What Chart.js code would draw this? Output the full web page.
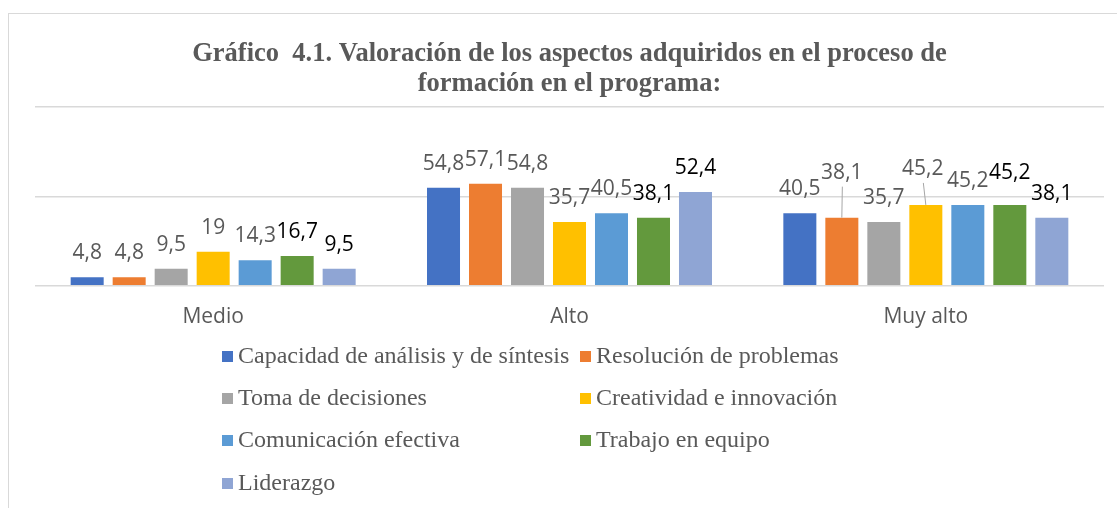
<!DOCTYPE html>
<html>
<head>
<meta charset="utf-8">
<script src="https://cdn.jsdelivr.net/npm/chart.js@4/dist/chart.umd.min.js"></script>
<style>
  html, body { margin: 0; padding: 0; background: #ffffff; overflow: hidden; }
  #frame { position: absolute; left: 8px; top: 13px; width: 1300px; height: 700px; border: 1px solid #d9d9d9; box-sizing: border-box; }
  #wrap { position: absolute; left: 0; top: 0; width: 1117px; height: 508px; }
</style>
</head>
<body>
<div id="frame"></div>
<div id="wrap"><canvas id="c" width="1117" height="508"></canvas></div>
<script>
const categories = ['Medio', 'Alto', 'Muy alto'];
const seriesNames = [
  'Capacidad de análisis y de síntesis',
  'Resolución de problemas',
  'Toma de decisiones',
  'Creatividad e innovación',
  'Comunicación efectiva',
  'Trabajo en equipo',
  'Liderazgo'
];
const capacidad    = [4.8, 54.8, 40.5];
const resolucion   = [4.8, 57.1, 38.1];
const toma         = [9.5, 54.8, 35.7];
const creatividad  = [19, 35.7, 45.2];
const comunicacion = [14.3, 40.5, 45.2];
const trabajo      = [16.7, 38.1, 45.2];
const liderazgo    = [9.5, 52.4, 38.1];
const yTicks = [0, 50, 100];

const seriesValues = [capacidad, resolucion, toma, creatividad, comunicacion, trabajo, liderazgo];
const colors = ['#4472C4', '#ED7D31', '#A5A5A5', '#FFC000', '#5B9BD5', '#63993D', '#8FA5D4'];
const labelColors = ['#595959', '#595959', '#595959', '#595959', '#595959', '#000000', '#000000'];

// manual label nudges (as in the original, some labels moved with leader lines)
const nudges = {
  '1-2': { dx: 0, dy: -21, leader: true },
  '3-2': { dx: -3, dy: -12, leader: true },
  '5-2': { dx: 0, dy: -8, leader: false }
};

const fmt = v => String(v).replace('.', ',');

const labelPlugin = {
  id: 'barLabels',
  afterDatasetsDraw(chart) {
    const ctx = chart.ctx;
    ctx.save();
    ctx.font = '21px "Open Sans"';
    ctx.textAlign = 'center';
    ctx.textBaseline = 'middle';
    chart.data.datasets.forEach((ds, di) => {
      const meta = chart.getDatasetMeta(di);
      meta.data.forEach((bar, i) => {
        const n = nudges[di + '-' + i] || { dx: 0, dy: 0 };
        const lx = bar.x + n.dx;
        const ly = bar.y - 24 + n.dy;
        if (n.leader) {
          ctx.strokeStyle = '#a6a6a6';
          ctx.lineWidth = 1;
          ctx.beginPath();
          ctx.moveTo(bar.x, bar.y);
          ctx.lineTo(lx + 0.5, ly + 14);
          ctx.stroke();
        }
        ctx.fillStyle = labelColors[di];
        ctx.fillText(fmt(ds.data[i]), lx, ly);
      });
    });
    ctx.restore();
  }
};

const legendPlugin = {
  id: 'gridLegend',
  afterDraw(chart) {
    const ctx = chart.ctx;
    ctx.save();
    ctx.font = '24px "Liberation Serif"';
    ctx.textBaseline = 'middle';
    ctx.textAlign = 'left';
    const colX = [222, 580];
    const rowY = [356, 398, 440, 483];
    chart.data.datasets.forEach((ds, i) => {
      const x = colX[i % 2];
      const y = rowY[Math.floor(i / 2)];
      ctx.fillStyle = ds.backgroundColor;
      ctx.fillRect(x, y - 5, 11, 11);
      ctx.fillStyle = '#595959';
      ctx.fillText(ds.label, x + 16, y + 1);
    });
    ctx.restore();
  }
};

new Chart(document.getElementById('c'), {
  type: 'bar',
  data: {
    labels: categories,
    datasets: seriesNames.map((name, i) => ({
      label: name,
      data: seriesValues[i],
      backgroundColor: colors[i],
      borderWidth: 0,
      categoryPercentage: 0.825,
      barPercentage: 0.786
    }))
  },
  options: {
    responsive: false,
    animation: false,
    layout: { padding: { left: 35, right: 13, top: 0, bottom: 159 } },
    plugins: {
      legend: { display: false },
      tooltip: { enabled: false },
      title: {
        display: true,
        text: ['Gráfico  4.1. Valoración de los aspectos adquiridos en el proceso de', 'formación en el programa:'],
        color: '#595959',
        font: { family: 'Liberation Serif', size: 26.5, weight: 'bold', lineHeight: 1.13 },
        padding: { top: 39, bottom: 8 }
      }
    },
    scales: {
      x: {
        grid: { display: false, drawTicks: false },
        border: { display: false },
        ticks: { color: '#595959', font: { family: 'Open Sans', size: 21 }, padding: 19 }
      },
      y: {
        min: 0,
        max: 100,
        afterBuildTicks: axis => { axis.ticks = yTicks.map(v => ({ value: v })); },
        grid: { color: '#d9d9d9', lineWidth: 1.5, drawTicks: false },
        border: { display: false },
        ticks: { display: false }
      }
    }
  },
  plugins: [labelPlugin, legendPlugin]
});
</script>
</body>
</html>
